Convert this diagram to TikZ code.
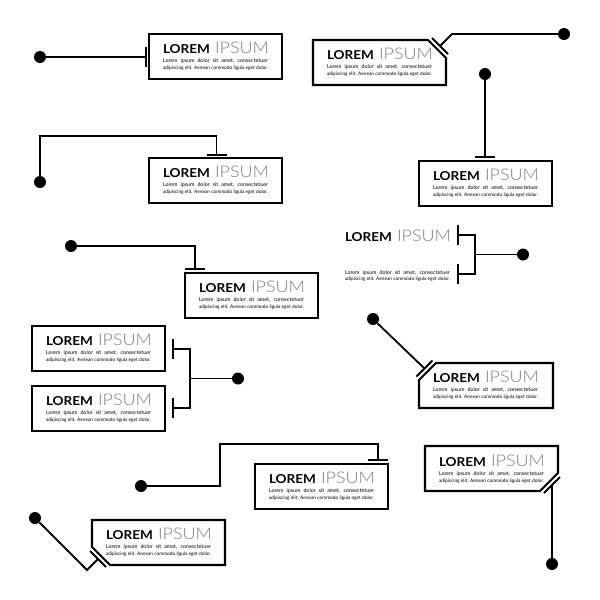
\documentclass[tikz,border=0pt]{standalone}
\usepackage{fontspec}
\setmainfont{Lato}
\newfontfamily\lightf{Lato Light}
\usepackage{graphicx}
\definecolor{ipsum}{HTML}{808080}
\newcommand\hdr{\resizebox{47pt}{9pt}{\bfseries LOREM}\hspace{5pt}\textcolor{ipsum}{\resizebox{54pt}{11.5pt}{\lightf IPSUM}}}
\newcommand\smA{\fontsize{5.3}{6}\selectfont\makebox[105pt][s]{Lorem ipsum dolor sit amet, consectetuer}}
\newcommand\smB{\fontsize{5.3}{6}\selectfont\resizebox{105pt}{!}{adipiscing elit. Aenean commodo ligula eget dolor.}}
\newcommand\txtblock[3]{%
  \node[txt] (#1h) at (#2,#3) {\hdr};
  \node[txt] (#1a) at (#2,#3+9.5) {\smA};
  \node[txt] (#1b) at (#2,#3+16) {\smB};}
\begin{document}
\begin{tikzpicture}[x=1pt,y=-1pt,
  txt/.style={anchor=base west,inner sep=0pt,outer sep=0pt},
  box/.style={draw,line width=2.1pt,minimum width=133pt,minimum height=45pt,inner sep=0pt,outer sep=0pt,anchor=north west},
  bxl/.style={line width=2.1pt,line join=miter},
  ln/.style={line width=1.8pt},
  dot/.style={circle,fill=black,minimum size=12pt,inner sep=0pt}]
\path[use as bounding box] (0,0) rectangle (600,600);

% E1
\node[box] (B1) at (149,34) {};
\txtblock{T1}{163}{53}
\node[dot] (D1) at (40,57) {};
\coordinate (K1) at (146,57);
\draw[ln] (D1) -- (K1);
\draw[ln] (146,47) -- (146,67);

% E2
\draw[bxl] (313,40) -- (428,40) -- (446,58) -- (446,85) -- (313,85) -- cycle;
\txtblock{T2}{327}{59}
\node[dot] (D2) at (564,34) {};
\coordinate (K2) at (440,46);
\draw[ln] (432,38) -- (448,54);
\draw[ln] (K2) -- (452,34) -- (D2);

% E3
\node[box] (B3) at (149,158) {};
\txtblock{T3}{163}{177}
\node[dot] (D3) at (40,182) {};
\coordinate (K3) at (216.5,155);
\draw[ln] (206.5,155) -- (226.5,155);
\draw[ln] (K3) -- (216.5,136) -- (40,136) -- (D3);

% E4
\node[box] (B4) at (419,161) {};
\txtblock{T4}{433}{180}
\node[dot] (D4) at (485,74) {};
\coordinate (K4) at (485,157);
\draw[ln] (475,157) -- (495,157);
\draw[ln] (D4) -- (K4);

% E5
\node[box] (B5) at (185,273) {};
\txtblock{T5}{199}{292}
\node[dot] (D5) at (71,246) {};
\coordinate (K5) at (195,269);
\draw[ln] (185,269) -- (205,269);
\draw[ln] (D5) -- (195,246) -- (K5);

% E6
\node[txt] (T6h) at (345,241) {\hdr};
\node[txt] (T6a) at (345,274) {\smA};
\node[txt] (T6b) at (345,280.5) {\smB};
\node[dot] (D6) at (523,254.5) {};
\coordinate (K6a) at (458,235);
\coordinate (K6b) at (458,274);
\coordinate (J6) at (475,254.5);
\draw[ln] (458,225) -- (458,245);
\draw[ln] (458,264) -- (458,284);
\draw[ln] (K6a) -- (475,235) -- (475,274) -- (K6b);
\draw[ln] (J6) -- (D6);

% E7
\node[box] (B7a) at (32,326) {};
\node[box] (B7b) at (32,386) {};
\txtblock{T7a}{46}{345}
\txtblock{T7b}{46}{405}
\node[dot] (D7) at (238,378.5) {};
\coordinate (K7a) at (173,349);
\coordinate (K7b) at (173,408);
\coordinate (J7) at (190,378.5);
\draw[ln] (173,339) -- (173,359);
\draw[ln] (173,398) -- (173,418);
\draw[ln] (K7a) -- (190,349) -- (190,408) -- (K7b);
\draw[ln] (J7) -- (D7);

% E8
\draw[bxl] (436,363) -- (553,363) -- (553,408) -- (419,408) -- (419,380) -- cycle;
\txtblock{T8}{433}{382}
\node[dot] (D8) at (373,319) {};
\coordinate (K8) at (424.5,368.5);
\draw[ln] (416.5,376.5) -- (432.5,360.5);
\draw[ln] (D8) -- (K8);

% E9
\node[box] (B9) at (255,464) {};
\txtblock{T9}{269}{483}
\node[dot] (D9) at (141,486) {};
\coordinate (K9) at (378,460);
\draw[ln] (368,460) -- (388,460);
\draw[ln] (K9) -- (378,444) -- (220,444) -- (220,486) -- (D9);

% E10
\draw[bxl] (425,446) -- (558,446) -- (558,473) -- (540,491) -- (425,491) -- cycle;
\txtblock{T10}{439}{466}
\node[dot] (D10) at (552,564) {};
\coordinate (K10) at (552,485);
\draw[ln] (544,493) -- (560,477);
\draw[ln] (K10) -- (D10);

% E11
\draw[bxl] (92,520) -- (225,520) -- (225,565) -- (110,565) -- (92,547) -- cycle;
\txtblock{T11}{106}{539}
\node[dot] (D11) at (35,518) {};
\coordinate (K11) at (98,559);
\draw[ln] (90,551) -- (106,567);
\draw[ln] (D11) -- (87,570) -- (K11);
\end{tikzpicture}
\end{document}
